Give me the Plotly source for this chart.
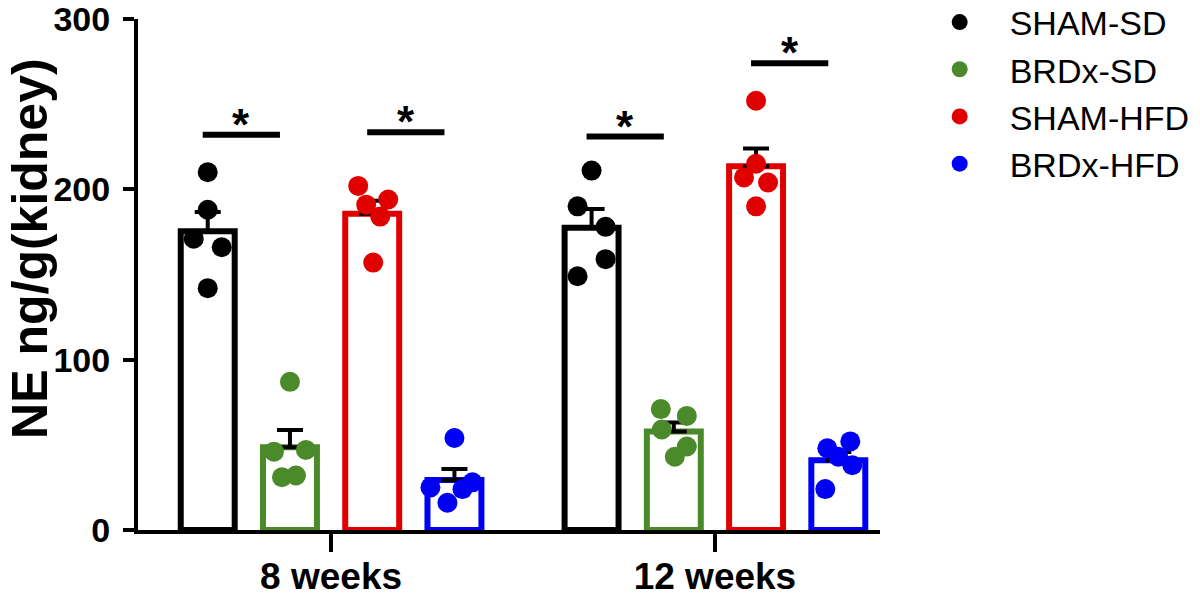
import numpy as np
import plotly.graph_objects as go

# ---------------- data ----------------
groups = ["8 weeks", "12 weeks"]
series = ["SHAM-SD", "BRDx-SD", "SHAM-HFD", "BRDx-HFD"]

sham_sd_8 = [210, 188, 171, 166, 142]
brdx_sd_8 = [87, 46, 47, 31, 32]
sham_hfd_8 = [202, 194, 191, 184, 157]
brdx_hfd_8 = [54, 25, 28, 24, 16]

sham_sd_12 = [211, 190, 178, 159, 149]
brdx_sd_12 = [71, 67, 59, 49, 43]
sham_hfd_12 = [252, 215, 207, 204, 190]
brdx_hfd_12 = [48, 52, 38, 24, 43]

y_ticks = [0, 100, 200, 300]
y_title = "NE ng/g(kidney)"

# significance comparisons: (group index, series i, series j, bar height)
sig_group = [0, 0, 1, 1]
sig_i = [0, 2, 0, 2]
sig_j = [1, 3, 1, 3]
sig_y = [232, 233.5, 231, 274]
sig_label = "*"

# ---------------- style / layout ----------------
colors = ["#000000", "#4b8a2a", "#e00000", "#0000f5"]
# horizontal jitter of dots (pixels from bar centre)
jitter_px = {
    (0, 0): [0, 0, -14, 14, 0],
    (0, 1): [0, -16, 16, -8, 6],
    (0, 2): [-14, 16, -6, 8, 1],
    (0, 3): [0, -24, 18, 8, -7],
    (1, 0): [0, -14, 14, 14, -14],
    (1, 1): [-13, 13, -12, 13, 1],
    (1, 2): [0, 0, -12, 12, 0],
    (1, 3): [-11, 12, 14, -13, 0],
}

values = {
    (0, 0): sham_sd_8, (0, 1): brdx_sd_8, (0, 2): sham_hfd_8, (0, 3): brdx_hfd_8,
    (1, 0): sham_sd_12, (1, 1): brdx_sd_12, (1, 2): sham_hfd_12, (1, 3): brdx_hfd_12,
}

W, H = 1200, 601
ml, mr, mt, mb = 138, 320, 19, 71
xr = [-0.503, 1.43]
px_per_unit = (W - ml - mr) / (xr[1] - xr[0])
bargap = 0.143
bargroupgap = 0.344
slot = (1 - bargap) / 4
offsets = [(k - 1.5) * slot for k in range(4)]

FONT = "Liberation Sans, Arial, sans-serif"

fig = go.Figure()

# bars
for k, name in enumerate(series):
    means, sems = [], []
    for g in range(2):
        v = np.array(values[(g, k)], dtype=float)
        means.append(v.mean())
        sems.append(v.std(ddof=1) / np.sqrt(len(v)))
    fig.add_trace(go.Bar(
        x=[0, 1], y=means, name=name, showlegend=False,
        marker=dict(color="rgba(255,255,255,0)", line=dict(color=colors[k], width=6)),
        error_y=dict(type="data", symmetric=False, array=sems, arrayminus=[0, 0],
                     color="black", thickness=4, width=13),
        hoverinfo="skip",
    ))

# dots
for k, name in enumerate(series):
    xs, ys = [], []
    for g in range(2):
        v = values[(g, k)]
        for val, j in zip(v, jitter_px[(g, k)]):
            xs.append(g + offsets[k] + j / px_per_unit)
            ys.append(val)
    fig.add_trace(go.Scatter(
        x=xs, y=ys, mode="markers", name=name,
        marker=dict(color=colors[k], size=20, line=dict(width=0)),
    ))

# significance bars
for g, i, j, yv in zip(sig_group, sig_i, sig_j, sig_y):
    x0 = g + offsets[i] - 5 / px_per_unit
    x1 = g + offsets[j] - 10 / px_per_unit
    fig.add_shape(type="line", x0=x0, x1=x1, y0=yv, y1=yv,
                  line=dict(color="black", width=6), xref="x", yref="y")
    fig.add_annotation(x=(x0 + x1) / 2, y=yv, text=sig_label, showarrow=False,
                       yanchor="bottom", yshift=-16,
                       font=dict(family=FONT, size=44, color="black", weight="bold"))

# y-axis title as annotation
fig.add_annotation(xref="paper", yref="paper", x=0, y=0.55, xshift=-108,
                   xanchor="center", yanchor="middle", textangle=-90,
                   text=y_title, showarrow=False,
                   font=dict(family=FONT, size=50, color="black", weight="bold"))

fig.update_layout(
    width=W, height=H,
    margin=dict(l=ml, r=mr, t=mt, b=mb, autoexpand=False),
    paper_bgcolor="white", plot_bgcolor="white",
    barmode="group", bargap=bargap, bargroupgap=bargroupgap,
    showlegend=True,
    legend=dict(x=1.04, y=1.05, xanchor="left", yanchor="top",
                font=dict(family=FONT, size=34, color="black"),
                itemwidth=90, tracegroupgap=0, bgcolor="rgba(0,0,0,0)"),
    font=dict(family=FONT, color="black"),
)
fig.update_xaxes(
    range=xr, tickmode="array", tickvals=[0, 1], ticktext=groups,
    automargin=False,
    showline=True, linecolor="black", linewidth=4,
    ticks="outside", ticklen=18, tickwidth=4, tickcolor="black",
    ticklabelstandoff=-7,
    tickfont=dict(family=FONT, size=37, color="black", weight="bold"),
    showgrid=False, zeroline=False,
)
fig.update_yaxes(
    range=[0, 300], tickmode="array", tickvals=y_ticks,
    automargin=False, ticklabeloverflow="allow",
    showline=True, linecolor="black", linewidth=4,
    ticks="outside", ticklen=11, tickwidth=4, tickcolor="black",
    ticklabelstandoff=6,
    tickfont=dict(family=FONT, size=34, color="black", weight="bold"),
    showgrid=False, zeroline=False,
)

fig.write_html("out.html")
